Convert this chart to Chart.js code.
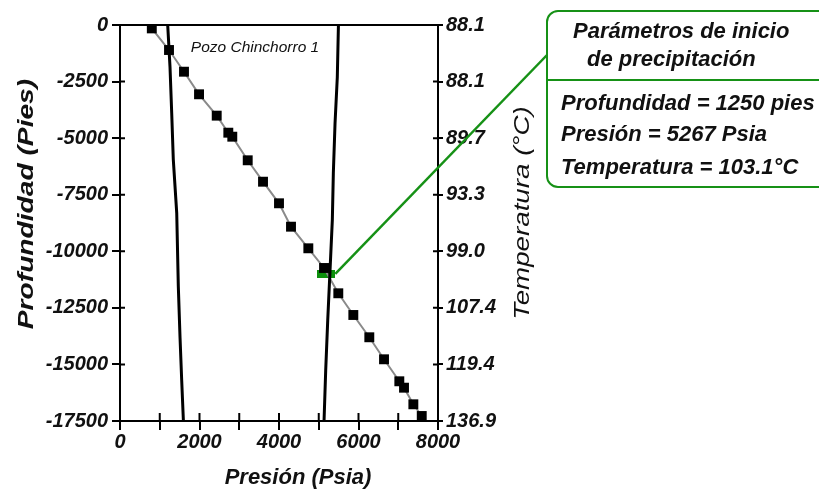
<!DOCTYPE html>
<html><head><meta charset="utf-8">
<script src="https://cdn.jsdelivr.net/npm/chart.js@4.4.0/dist/chart.umd.min.js"></script>
<style>
html,body{margin:0;padding:0;background:#fff;overflow:hidden;width:819px;height:492px;}
#wrap{position:relative;width:819px;height:492px;overflow:hidden;}
canvas{position:absolute;left:0;top:0;}
.box{position:absolute;left:546px;top:10px;width:300px;height:178px;border:2px solid #169116;border-radius:12px;box-sizing:border-box;}
.sep{position:absolute;left:547px;top:79px;width:300px;height:0;border-top:2px solid #169116;}
.t{position:absolute;font-family:'Liberation Sans',Arial,sans-serif;font-style:italic;font-weight:bold;font-size:22px;line-height:22px;white-space:nowrap;color:#111;}
</style></head>
<body><div id="wrap"><canvas id="c" width="819" height="492"></canvas>
<div class="box"></div><div class="sep"></div>
<div class="t" style="left:573px;top:20px">Parámetros de inicio</div>
<div class="t" style="left:587px;top:48px">de precipitación</div>
<div class="t" style="left:561px;top:92px">Profundidad = 1250 pies</div>
<div class="t" style="left:561px;top:123px">Presión = 5267 Psia</div>
<div class="t" style="left:561px;top:156px">Temperatura = 103.1°C</div>
</div>
<script>
// ---- data ----
const markerPressure = [800,1233,1610,1988,2433,2725,2825,3213,3598,4000,4302,4738,5133,5492,5870,6272,6642,7027,7145,7380,7591];
const markerDepth    = [-150,-1105,-2064,-3062,-4006,-4759,-4936,-5979,-6925,-7879,-8913,-9868,-10738,-11856,-12815,-13800,-14773,-15745,-16028,-16762,-17279];
const curveAPressure = [1200,1258,1301,1341,1427,1467,1510,1552,1595];
const curveADepth    = [0,-1850,-3900,-5950,-8300,-11550,-13800,-15700,-17500];
const curveBPressure = [5495,5467,5410,5367,5342,5284,5226,5175,5133];
const curveBDepth    = [0,-2300,-4330,-6550,-8600,-10830,-13040,-15250,-17500];
const onsetPressure  = [5190];
const onsetDepth     = [-11000];
const pressureTicks  = ['0','','2000','','4000','','6000','','8000'];
const depthTicks     = ['0','-2500','-5000','-7500','-10000','-12500','-15000','-17500'];
const tempTicks      = ['88.1','88.1','89.7','93.3','99.0','107.4','119.4','136.9'];

const pts = (xs, ys) => xs.map((x, i) => ({x, y: ys[i]}));
const FONT = "'Liberation Sans', Arial, sans-serif";
const GREEN = '#169116';

const gm = document.createElement('canvas'); gm.width = 18; gm.height = 8;
const gctx = gm.getContext('2d'); gctx.fillStyle = '#0c8f0c'; gctx.fillRect(0, 0, 18, 8);

const decor = {
  id: 'decor',
  afterDatasetsDraw(chart) {
    const {ctx, chartArea: a, scales} = chart;
    ctx.save();
    ctx.strokeStyle = '#000'; ctx.lineWidth = 2;
    ctx.beginPath();
    ctx.moveTo(a.left, a.top); ctx.lineTo(a.right, a.top);
    scales.x.ticks.forEach(t => { const p = scales.x.getPixelForValue(t.value); ctx.moveTo(p, a.bottom); ctx.lineTo(p, a.bottom - 8); });
    scales.y.ticks.forEach(t => { const p = scales.y.getPixelForValue(t.value); ctx.moveTo(a.left, p); ctx.lineTo(a.left + 5, p); });
    scales.y2.ticks.forEach(t => { const p = scales.y2.getPixelForValue(t.value); ctx.moveTo(a.right, p); ctx.lineTo(a.right - 5, p); });
    ctx.stroke();
    // callout line
    const gx = scales.x.getPixelForValue(onsetPressure[0]) + 9;
    const gy = scales.y.getPixelForValue(onsetDepth[0]);
    ctx.strokeStyle = GREEN; ctx.lineWidth = 2.5;
    ctx.beginPath(); ctx.moveTo(gx, gy); ctx.lineTo(547, 55); ctx.stroke();
    // texts
    ctx.fillStyle = '#111'; ctx.textAlign = 'center'; ctx.textBaseline = 'middle';
    ctx.font = 'italic 15.5px ' + FONT;
    ctx.fillText('Pozo Chinchorro 1', 255, 48);
    ctx.font = 'italic bold 22px ' + FONT;
    ctx.fillText('Presión (Psia)', 298, 478);
    ctx.save(); ctx.translate(27, 204); ctx.rotate(-Math.PI / 2); ctx.scale(1.28, 1); ctx.fillText('Profundidad (Pies)', 0, 0); ctx.restore();
    ctx.font = 'italic 22px ' + FONT;
    ctx.save(); ctx.translate(523, 213); ctx.rotate(-Math.PI / 2); ctx.scale(1.26, 1); ctx.fillText('Temperatura (°C)', 0, 0); ctx.restore();
    ctx.restore();
  }
};

const tickFont = {family: FONT, size: 20, style: 'italic', weight: 'bold'};
const grid = (len) => ({drawOnChartArea: false, drawTicks: true, tickLength: len, color: '#000', lineWidth: 2});

new Chart(document.getElementById('c'), {
  type: 'scatter',
  data: {
    datasets: [
      {data: pts(curveAPressure, curveADepth), showLine: true, borderColor: '#000', borderWidth: 3, pointRadius: 0, yAxisID: 'y'},
      {data: pts(curveBPressure, curveBDepth), showLine: true, borderColor: '#000', borderWidth: 3, pointRadius: 0, yAxisID: 'y'},
      {data: pts(markerPressure, markerDepth), showLine: true, borderColor: '#8a8a8a', borderWidth: 2,
       pointStyle: 'rect', pointRadius: 7, pointBackgroundColor: '#000', pointBorderColor: '#000', pointBorderWidth: 0, yAxisID: 'y'},
      {data: pts(onsetPressure, onsetDepth), showLine: false, pointStyle: gm, pointRadius: 9, yAxisID: 'y'}
    ]
  },
  options: {
    responsive: false, animation: false, devicePixelRatio: 1,
    layout: {padding: {top: 25, right: 281, left: 0, bottom: 0}},
    plugins: {legend: {display: false}, tooltip: {enabled: false}},
    scales: {
      x: {type: 'linear', position: 'bottom', min: 0, max: 8000,
          grid: grid(9), border: {display: true, color: '#000', width: 2},
          ticks: {stepSize: 1000, autoSkip: false, maxRotation: 0, padding: 0, color: '#111', font: tickFont,
                  callback: (v) => pressureTicks[Math.round(v / 1000)] ?? ''},
          afterFit: (s) => { s.height = 71; }},
      y: {type: 'linear', position: 'left', min: -17500, max: 0,
          grid: grid(8), border: {display: true, color: '#000', width: 2},
          ticks: {stepSize: 2500, autoSkip: false, padding: 4, color: '#111', font: tickFont,
                  callback: (v) => depthTicks[Math.round(-v / 2500)] ?? ''},
          afterFit: (s) => { s.width = 120; }},
      y2: {type: 'linear', position: 'right', min: -17500, max: 0,
          grid: grid(5), border: {display: true, color: '#000', width: 2},
          ticks: {stepSize: 2500, autoSkip: false, padding: 3, color: '#111', font: tickFont,
                  callback: (v) => tempTicks[Math.round(-v / 2500)] ?? ''},
          afterFit: (s) => { s.width = 100; }}
    }
  },
  plugins: [decor]
});
</script>
</body></html>
